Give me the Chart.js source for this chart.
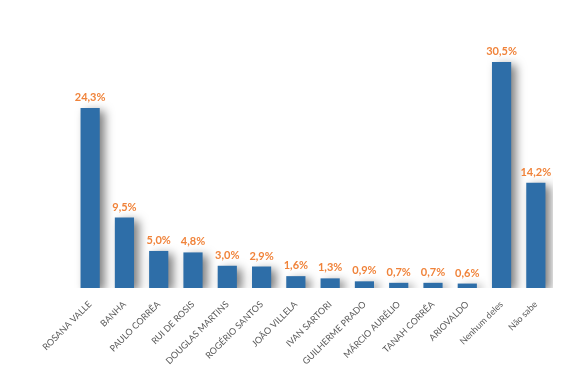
<!DOCTYPE html>
<html>
<head>
<meta charset="utf-8">
<script src="https://cdn.jsdelivr.net/npm/chart.js@4/dist/chart.umd.min.js"></script>
<style>
  html, body { margin: 0; padding: 0; background: #fff; }
  #wrap { width: 582px; height: 365px; position: relative; }
</style>
</head>
<body>
<div id="wrap"><canvas id="chart"></canvas></div>
<script>
const candidates = ['ROSANA VALLE', 'BANHA', 'PAULO CORRÊA', 'RUI DE ROSIS', 'DOUGLAS MARTINS', 'ROGÉRIO SANTOS', 'JOÃO VILLELA', 'IVAN SARTORI', 'GUILHERME PRADO', 'MÁRCIO AURÉLIO', 'TANAH CORRÊA', 'ARIOVALDO', 'Nenhum deles', 'Não sabe'];
const percentages = [24.3, 9.5, 5.0, 4.8, 3.0, 2.9, 1.6, 1.3, 0.9, 0.7, 0.7, 0.6, 30.5, 14.2];

const fmt = v => v.toFixed(1).replace('.', ',') + '%';

// soft drop shadow behind the bars
const barShadow = {
  id: 'barShadow',
  beforeDatasetDraw(chart) {
    const c = chart.ctx;
    c.save();
    c.shadowColor = 'rgba(0,0,0,0.5)';
    c.shadowBlur = 10;
    c.shadowOffsetX = 5;
    c.shadowOffsetY = 3;
  },
  afterDatasetDraw(chart) {
    chart.ctx.restore();
  }
};

// value labels above bars
const valueLabels = {
  id: 'valueLabels',
  afterDatasetsDraw(chart) {
    const c = chart.ctx;
    const meta = chart.getDatasetMeta(0);
    c.save();
    c.fillStyle = '#F0833A';
    c.font = 'bold 11px Lato, "Open Sans", sans-serif';
    c.textAlign = 'center';
    c.textBaseline = 'bottom';
    meta.data.forEach((bar, i) => {
      c.fillText(fmt(percentages[i]), bar.x, bar.y - 5);
    });
    c.restore();
  }
};

new Chart(document.getElementById('chart'), {
  type: 'bar',
  data: {
    labels: candidates,
    datasets: [{
      data: percentages,
      backgroundColor: '#2E6EA8',
      borderWidth: 0,
      barPercentage: 0.56,
      categoryPercentage: 1
    }]
  },
  options: {
    responsive: true,
    maintainAspectRatio: false,
    animation: false,
    layout: { padding: { left: 73, right: 29, top: 36, bottom: 0 } },
    plugins: { legend: { display: false }, tooltip: { enabled: false } },
    scales: {
      y: { display: false, min: 0, max: 34 },
      x: {
        grid: { display: false },
        border: { display: false },
        afterFit: scale => { scale.height = 77; },
        ticks: {
          minRotation: 45,
          maxRotation: 45,
          autoSkip: false,
          padding: 3,
          color: '#5a5a5a',
          font: { size: 9, family: 'Lato, "Open Sans", sans-serif' }
        }
      }
    }
  },
  plugins: [barShadow, valueLabels]
});
</script>
</body>
</html>
